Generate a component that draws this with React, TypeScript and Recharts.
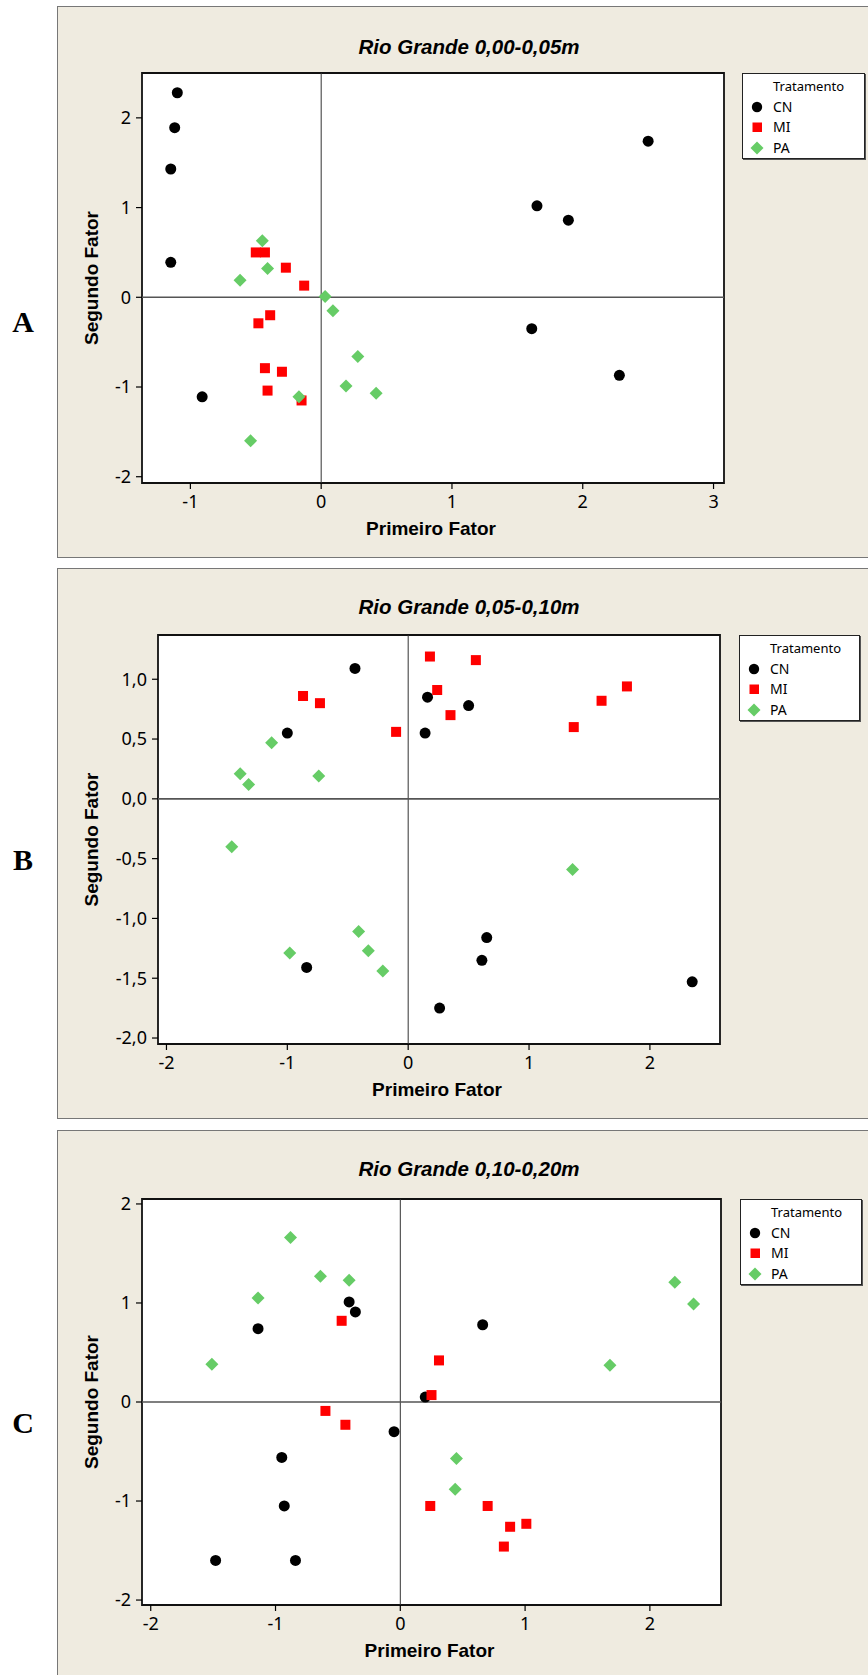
import React from 'react';
import { ScatterChart, Scatter, XAxis, YAxis, ReferenceArea, ReferenceLine, Label } from 'recharts';

type Pt = { x: number; y: number };

const groups = ['CN', 'MI', 'PA'];
const colors = { CN: '#000000', MI: '#ff0000', PA: '#66cc66' };

// A: Rio Grande 0,00-0,05m
const cnA: Pt[] = [
  { x: -1.1, y: 2.28 }, { x: -1.12, y: 1.89 }, { x: -1.15, y: 1.43 }, { x: -1.15, y: 0.39 },
  { x: -0.91, y: -1.11 }, { x: 1.65, y: 1.02 }, { x: 1.89, y: 0.86 }, { x: 2.5, y: 1.74 },
  { x: 1.61, y: -0.35 }, { x: 2.28, y: -0.87 },
];
const miA: Pt[] = [
  { x: -0.5, y: 0.5 }, { x: -0.43, y: 0.5 }, { x: -0.27, y: 0.33 }, { x: -0.13, y: 0.13 },
  { x: -0.39, y: -0.2 }, { x: -0.48, y: -0.29 }, { x: -0.43, y: -0.79 }, { x: -0.3, y: -0.83 },
  { x: -0.41, y: -1.04 }, { x: -0.15, y: -1.15 },
];
const paA: Pt[] = [
  { x: -0.45, y: 0.63 }, { x: -0.41, y: 0.32 }, { x: -0.62, y: 0.19 }, { x: 0.03, y: 0.01 },
  { x: 0.09, y: -0.15 }, { x: 0.28, y: -0.66 }, { x: 0.19, y: -0.99 }, { x: 0.42, y: -1.07 },
  { x: -0.17, y: -1.11 }, { x: -0.54, y: -1.6 },
];

// B: Rio Grande 0,05-0,10m
const cnB: Pt[] = [
  { x: -0.44, y: 1.09 }, { x: -1.0, y: 0.55 }, { x: 0.16, y: 0.85 }, { x: 0.14, y: 0.55 },
  { x: 0.5, y: 0.78 }, { x: -0.84, y: -1.41 }, { x: 0.65, y: -1.16 }, { x: 0.61, y: -1.35 },
  { x: 0.26, y: -1.75 }, { x: 2.35, y: -1.53 },
];
const miB: Pt[] = [
  { x: -0.87, y: 0.86 }, { x: -0.73, y: 0.8 }, { x: -0.1, y: 0.56 }, { x: 0.18, y: 1.19 },
  { x: 0.56, y: 1.16 }, { x: 0.24, y: 0.91 }, { x: 0.35, y: 0.7 }, { x: 1.37, y: 0.6 },
  { x: 1.6, y: 0.82 }, { x: 1.81, y: 0.94 },
];
const paB: Pt[] = [
  { x: -1.13, y: 0.47 }, { x: -1.39, y: 0.21 }, { x: -1.32, y: 0.12 }, { x: -0.74, y: 0.19 },
  { x: -1.46, y: -0.4 }, { x: 1.36, y: -0.59 }, { x: -0.41, y: -1.11 }, { x: -0.98, y: -1.29 },
  { x: -0.33, y: -1.27 }, { x: -0.21, y: -1.44 },
];

// C: Rio Grande 0,10-0,20m
const cnC: Pt[] = [
  { x: -1.14, y: 0.74 }, { x: -0.41, y: 1.01 }, { x: -0.36, y: 0.91 }, { x: 0.66, y: 0.78 },
  { x: 0.2, y: 0.05 }, { x: -0.05, y: -0.3 }, { x: -0.95, y: -0.56 }, { x: -0.93, y: -1.05 },
  { x: -1.48, y: -1.6 }, { x: -0.84, y: -1.6 },
];
const miC: Pt[] = [
  { x: -0.47, y: 0.82 }, { x: 0.31, y: 0.42 }, { x: 0.25, y: 0.07 }, { x: -0.6, y: -0.09 },
  { x: -0.44, y: -0.23 }, { x: 0.24, y: -1.05 }, { x: 0.7, y: -1.05 }, { x: 0.88, y: -1.26 },
  { x: 1.01, y: -1.23 }, { x: 0.83, y: -1.46 },
];
const paC: Pt[] = [
  { x: -0.88, y: 1.66 }, { x: -0.64, y: 1.27 }, { x: -0.41, y: 1.23 }, { x: -1.14, y: 1.05 },
  { x: -1.51, y: 0.38 }, { x: 2.2, y: 1.21 }, { x: 2.35, y: 0.99 }, { x: 1.68, y: 0.37 },
  { x: 0.45, y: -0.57 }, { x: 0.44, y: -0.88 },
];

const xTicksA = [-1, 0, 1, 2, 3];
const yTicksA = [-2, -1, 0, 1, 2];
const xTicksB = [-2, -1, 0, 1, 2];
const yTicksB = [-2, -1.5, -1, -0.5, 0, 0.5, 1];
const xTicksC = [-2, -1, 0, 1, 2];
const yTicksC = [-2, -1, 0, 1, 2];

const intFmt = (v: number) => String(v);
const commaFmt = (v: number) => v.toFixed(1).replace('.', ',');

const BEIGE = '#efebe0';
const TICK_FONT = { fontFamily: '"Noto Sans", Tahoma, sans-serif', fontSize: 18, fill: '#000' };

const CircleMark = (p: any) => <circle cx={p.cx} cy={p.cy} r={5.5} fill={colors.CN} />;
const SquareMark = (p: any) => <rect x={p.cx - 5} y={p.cy - 5} width={10} height={10} fill={colors.MI} />;
const DiamondMark = (p: any) => (
  <polygon
    points={`${p.cx},${p.cy - 6.5} ${p.cx + 6.5},${p.cy} ${p.cx},${p.cy + 6.5} ${p.cx - 6.5},${p.cy}`}
    fill={colors.PA}
  />
);

const LegendMark = ({ g }: { g: string }) => (
  <svg width={14} height={14} style={{ display: 'block' }}>
    {g === 'CN' && <circle cx={7} cy={7} r={5.2} fill={colors.CN} />}
    {g === 'MI' && <rect x={2.5} y={2.5} width={9.5} height={9.5} fill={colors.MI} />}
    {g === 'PA' && <polygon points="7,0.5 13.5,7 7,13.5 0.5,7" fill={colors.PA} />}
  </svg>
);

interface PanelProps {
  top: number;
  height: number;
  plotLeft: number;
  plotTop: number;
  plotRight: number;
  plotBottom: number;
  xDomain: [number, number];
  yDomain: [number, number];
  xTicks: number[];
  yTicks: number[];
  yFmt: (v: number) => string;
  cn: Pt[];
  mi: Pt[];
  pa: Pt[];
  title: string;
  titleY: number;
  letter: string;
  letterY: number;
  legendLeft: number;
  legendWidth: number;
  bottomBorder: boolean;
}

const CHART_LEFT = 57;
const CHART_W = 811;
const Y_AXIS_W = 60;

const Panel: React.FC<PanelProps> = (p) => {
  const margin = {
    top: p.plotTop - p.top,
    left: p.plotLeft - CHART_LEFT - Y_AXIS_W,
    right: CHART_LEFT + CHART_W - p.plotRight,
    bottom: p.top + p.height - p.plotBottom - 40,
  };
  const series = [
    { g: 'CN', data: p.cn, shape: CircleMark },
    { g: 'MI', data: p.mi, shape: SquareMark },
    { g: 'PA', data: p.pa, shape: DiamondMark },
  ];
  return (
    <>
      <div
        style={{
          position: 'absolute',
          left: CHART_LEFT,
          top: p.top,
          width: 860,
          height: p.height,
          boxSizing: 'border-box',
          background: BEIGE,
          borderLeft: '1.5px solid #777',
          borderTop: '1.5px solid #777',
          borderBottom: p.bottomBorder ? '1.5px solid #777' : 'none',
        }}
      />
      <div
        style={{
          position: 'absolute',
          left: 0,
          width: 46,
          top: p.letterY - 15,
          lineHeight: '30px',
          textAlign: 'center',
          fontFamily: '"Liberation Serif", "Times New Roman", serif',
          fontWeight: 'bold',
          fontSize: 30,
        }}
      >
        {p.letter}
      </div>
      <div
        style={{
          position: 'absolute',
          left: 469,
          top: p.titleY - 11,
          transform: 'translateX(-50%)',
          whiteSpace: 'nowrap',
          lineHeight: '21px',
          fontFamily: '"Liberation Sans", Arial, sans-serif',
          fontWeight: 'bold',
          fontStyle: 'italic',
          fontSize: 20.5,
        }}
      >
        {p.title}
      </div>
      <div style={{ position: 'absolute', left: CHART_LEFT, top: p.top }}>
        <ScatterChart width={CHART_W} height={p.height} margin={margin}>
          <XAxis
            type="number"
            dataKey="x"
            domain={p.xDomain}
            ticks={p.xTicks}
            allowDataOverflow
            axisLine={false}
            tickLine={{ stroke: '#000', strokeWidth: 1.2 }}
            tickSize={6}
            tickMargin={6}
            height={40}
            tick={TICK_FONT}
          >
            <Label
              content={(lp: any) => {
                const vb = lp.viewBox;
                return (
                  <text
                    x={vb.x + vb.width / 2 - 2}
                    y={vb.y + 52}
                    textAnchor="middle"
                    fontFamily='"Liberation Sans", Arial, sans-serif'
                    fontWeight="bold"
                    fontSize={19}
                    fill="#000"
                  >
                    Primeiro Fator
                  </text>
                );
              }}
            />
          </XAxis>
          <YAxis
            type="number"
            dataKey="y"
            domain={p.yDomain}
            ticks={p.yTicks}
            tickFormatter={p.yFmt}
            allowDataOverflow
            axisLine={false}
            tickLine={{ stroke: '#000', strokeWidth: 1.2 }}
            tickSize={6}
            tickMargin={5}
            width={Y_AXIS_W}
            tick={TICK_FONT}
          >
            <Label
              content={(lp: any) => {
                const vb = lp.viewBox;
                const cx = 98 - CHART_LEFT;
                const cy = vb.y + vb.height / 2;
                return (
                  <text
                    x={cx}
                    y={cy}
                    transform={`rotate(-90, ${cx}, ${cy})`}
                    textAnchor="middle"
                    fontFamily='"Liberation Sans", Arial, sans-serif'
                    fontWeight="bold"
                    fontSize={19}
                    fill="#000"
                  >
                    Segundo Fator
                  </text>
                );
              }}
            />
          </YAxis>
          <ReferenceArea
            x1={p.xDomain[0]}
            x2={p.xDomain[1]}
            y1={p.yDomain[0]}
            y2={p.yDomain[1]}
            fill="#ffffff"
            fillOpacity={1}
            stroke="#111"
            strokeWidth={1.8}
          />
          <ReferenceLine x={0} stroke="#333" strokeWidth={1} />
          <ReferenceLine y={0} stroke="#555" strokeWidth={1.6} />
          {series.map((s) => (
            <Scatter key={s.g} name={s.g} data={s.data} shape={s.shape} isAnimationActive={false} />
          ))}
        </ScatterChart>
      </div>
      <div
        style={{
          position: 'absolute',
          left: p.legendLeft,
          top: p.plotTop,
          width: p.legendWidth,
          height: 86,
          boxSizing: 'border-box',
          background: '#fff',
          border: '1.5px solid #222',
          boxShadow: '1px 1px 0 #555',
          fontFamily: '"Noto Sans", Tahoma, sans-serif',
          color: '#000',
        }}
      >
        <div style={{ position: 'absolute', left: 30, top: 3, lineHeight: '18px', fontSize: 13 }}>Tratamento</div>
        {groups.map((g, i) => (
          <div key={g} style={{ position: 'absolute', left: 0, top: 23 + i * 20.3, height: 20, display: 'flex', alignItems: 'center' }}>
            <div style={{ width: 14, marginLeft: 7 }}>
              <LegendMark g={g} />
            </div>
            <div style={{ marginLeft: 9, lineHeight: '18px', fontSize: 14 }}>{g}</div>
          </div>
        ))}
      </div>
    </>
  );
};

export default function App() {
  return (
    <div style={{ position: 'absolute', left: 0, top: 0, width: 868, height: 1675, overflow: 'hidden', background: '#fff' }}>
      <Panel
        top={6}
        height={552}
        plotLeft={142}
        plotTop={73}
        plotRight={724}
        plotBottom={483}
        xDomain={[-1.37, 3.08]}
        yDomain={[-2.07, 2.5]}
        xTicks={xTicksA}
        yTicks={yTicksA}
        yFmt={intFmt}
        cn={cnA}
        mi={miA}
        pa={paA}
        title="Rio Grande 0,00-0,05m"
        titleY={47}
        letter="A"
        letterY={322}
        legendLeft={742}
        legendWidth={123}
        bottomBorder
      />
      <Panel
        top={568}
        height={551}
        plotLeft={158}
        plotTop={635}
        plotRight={720}
        plotBottom={1044}
        xDomain={[-2.07, 2.58]}
        yDomain={[-2.05, 1.37]}
        xTicks={xTicksB}
        yTicks={yTicksB}
        yFmt={commaFmt}
        cn={cnB}
        mi={miB}
        pa={paB}
        title="Rio Grande 0,05-0,10m"
        titleY={607}
        letter="B"
        letterY={860}
        legendLeft={739}
        legendWidth={121}
        bottomBorder
      />
      <Panel
        top={1130}
        height={560}
        plotLeft={142}
        plotTop={1199}
        plotRight={721}
        plotBottom={1605}
        xDomain={[-2.07, 2.57]}
        yDomain={[-2.05, 2.05]}
        xTicks={xTicksC}
        yTicks={yTicksC}
        yFmt={intFmt}
        cn={cnC}
        mi={miC}
        pa={paC}
        title="Rio Grande 0,10-0,20m"
        titleY={1169}
        letter="C"
        letterY={1423}
        legendLeft={740}
        legendWidth={122}
        bottomBorder={false}
      />
    </div>
  );
}
